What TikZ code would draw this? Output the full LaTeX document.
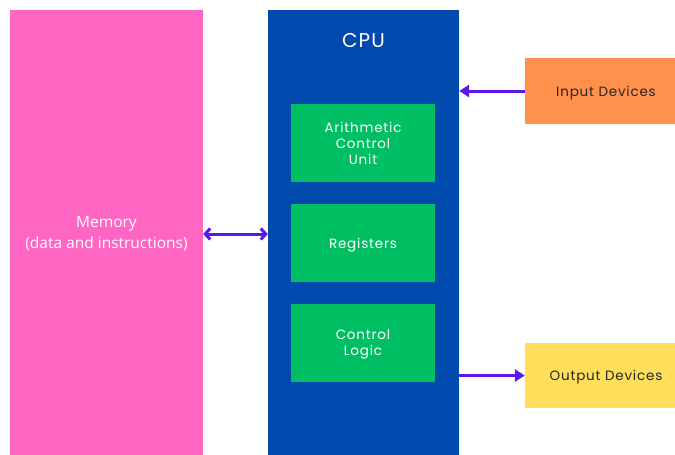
\documentclass[tikz,border=0pt]{standalone}
\usepackage{fontspec}
\setmainfont{Open Sans}
\newfontfamily\geo[LetterSpace=6]{Poppins}
\usetikzlibrary{arrows.meta}
\definecolor{pinkmem}{HTML}{FF66C4}
\definecolor{bluecpu}{HTML}{004AAD}
\definecolor{greenunit}{HTML}{00BF63}
\definecolor{orangein}{HTML}{FF914D}
\definecolor{yellowout}{HTML}{FFDE59}
\definecolor{purplearr}{HTML}{5E17EB}
\begin{document}
\begin{tikzpicture}[x=1pt, y=-1pt,
  unit/.style={fill=greenunit, minimum width=144pt, minimum height=78pt, text=white, font=\geo\fontsize{13.5}{16}\selectfont, align=center, inner sep=0pt, text depth=0pt},
  dev/.style={minimum width=162pt, text=black!85, font=\geo\fontsize{13.5}{16}\selectfont, inner sep=0pt, text depth=0pt},
  link/.style={purplearr, line width=3pt}]
\useasboundingbox (0,0) rectangle (675,455);
\fill[white](0,0)rectangle(675,455);
\node[fill=pinkmem, minimum width=193pt, minimum height=445pt, inner sep=0pt, text depth=0pt, text=white, align=center, font=\fontsize{15.5}{21}\selectfont] (mem) at (106.5,232.5) {Memory\\(data and instructions)};
\node[fill=bluecpu, minimum width=191pt, minimum height=445pt, inner sep=0pt] (cpu) at (363.5,232.5) {};
\node[text=white, font=\geo\fontsize{20}{24}\selectfont] (cputitle) at (363.5,41) {CPU};
\node[unit] (acu) at (363,143) {Arithmetic\\Control\\Unit};
\node[unit] (reg) at (363,243) {Registers};
\node[unit] (ctl) at (363,343) {Control\\Logic};
\node[dev, fill=orangein, minimum height=66pt] (inp) at (606,91) {Input Devices};
\node[dev, fill=yellowout, minimum height=65pt] (outp) at (606,375.5) {Output Devices};
\draw[link, {Straight Barb[length=5pt,width=11pt]}-{Straight Barb[length=5pt,width=11pt]}]([yshift=-1.5pt]mem.east)--([yshift=-1.5pt]cpu.west);
\draw[link, -{Triangle[length=10pt,width=12pt]}](inp.west)--(cpu.east |- inp.west);
\draw[link, -{Triangle[length=10pt,width=12pt]}](cpu.east |- outp.west)--(outp.west);
\end{tikzpicture}
\end{document}
